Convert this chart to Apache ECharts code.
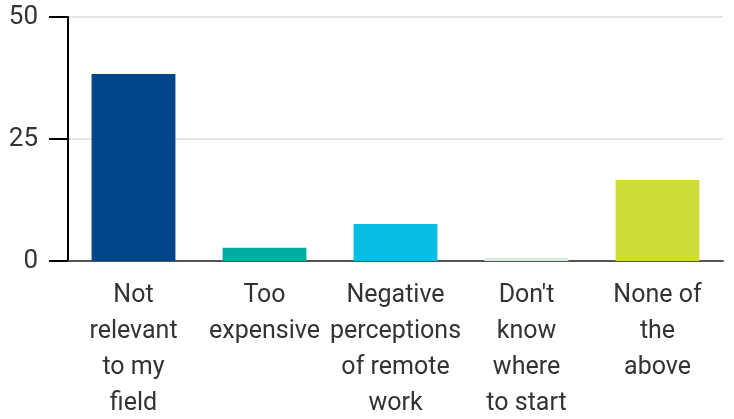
<!DOCTYPE html>
<html>
<head>
<meta charset="utf-8">
<script src="https://cdn.jsdelivr.net/npm/echarts@6/dist/echarts.min.js"></script>
<style>
  html, body { margin: 0; padding: 0; background: #fff; }
  #chart { width: 734px; height: 419px; }
</style>
</head>
<body>
<div id="chart"></div>
<script>
  // categories and values
  const categories = [
    'Not\nrelevant\nto my\nfield',
    'Too\nexpensive',
    'Negative\nperceptions\nof remote\nwork',
    "Don't\nknow\nwhere\nto start",
    'None of\nthe\nabove'
  ];
  const values = [38.3, 2.7, 7.6, 0.6, 16.6];
  const yTicks = [0, 25, 50];

  const barColors = ['#00448a', '#00ab9f', '#07bde3', '#d9eedb', '#cfdd3a'];

  const chart = echarts.init(document.getElementById('chart'));
  chart.setOption({
    animation: false,
    textStyle: { fontFamily: 'Roboto' },
    grid: { left: 68, right: 11, top: 17, bottom: 158, outerBoundsMode: 'none' },
    xAxis: {
      type: 'category',
      data: categories,
      axisLine: { lineStyle: { color: '#555', width: 2 } },
      axisTick: { alignWithLabel: true, length: 18, lineStyle: { color: '#000', width: 2 } },
      axisLabel: {
        interval: 0,
        margin: 17,
        fontSize: 25,
        lineHeight: 36,
        color: '#333'
      }
    },
    yAxis: {
      type: 'value',
      min: yTicks[0],
      max: yTicks[yTicks.length - 1],
      interval: 25,
      axisLine: { show: true, lineStyle: { color: '#000', width: 2 } },
      axisTick: { show: true, length: 19, lineStyle: { color: '#000', width: 2 } },
      axisLabel: { fontSize: 26, color: '#333', margin: 30 },
      splitLine: { lineStyle: { color: '#e6e6e6', width: 2 } }
    },
    series: [{
      type: 'bar',
      barCategoryGap: '36%',
      data: values.map((v, i) => ({ value: v, itemStyle: { color: barColors[i] } }))
    }]
  });
</script>
</body>
</html>
